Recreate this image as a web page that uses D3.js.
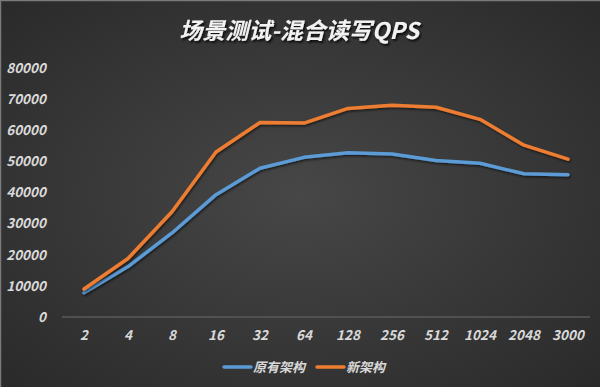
<!DOCTYPE html>
<html>
<head>
<meta charset="utf-8">
<script src="https://cdn.jsdelivr.net/npm/d3@7"></script>
<style>
    body { margin: 0; background: #333; }
    svg { display: block; }
</style>
</head>
<body>
<div id="chart"></div>
<script>
// data
var categories = ["2", "4", "8", "16", "32", "64", "128", "256", "512", "1024", "2048", "3000"];
var oldArch = [7800, 16200, 27000, 39300, 47800, 51300, 52800, 52400, 50300, 49400, 46000, 45700];
var newArch = [9000, 18800, 33800, 53000, 62500, 62300, 67000, 68000, 67400, 63500, 55200, 50700];
var seriesNames = ["原有架构", "新架构"];
var yTicks = [0, 10000, 20000, 30000, 40000, 50000, 60000, 70000, 80000];

var colors = ["#5b9bd5", "#ed7d31"];

var width = 600, height = 387;
var margin = { top: 68, right: 10, bottom: 70, left: 62 };

var svg = d3.select("#chart")
    .append("svg")
    .attr("width", width)
    .attr("height", height);

// background gradient
var defs = svg.append("defs");
var grad = defs.append("radialGradient")
    .attr("id", "bg")
    .attr("cx", "50%").attr("cy", "50%").attr("r", "70%");
grad.append("stop").attr("offset", "0%").attr("stop-color", "#474747");
grad.append("stop").attr("offset", "100%").attr("stop-color", "#2a2a2a");

var shadow = defs.append("filter").attr("id", "shadow")
    .attr("x", "-10%").attr("y", "-30%").attr("width", "120%").attr("height", "160%");
shadow.append("feDropShadow")
    .attr("dx", 1.5).attr("dy", 2).attr("stdDeviation", 1.2)
    .attr("flood-color", "#000").attr("flood-opacity", 0.8);

var lineShadow = defs.append("filter").attr("id", "lshadow")
    .attr("x", "-10%").attr("y", "-10%").attr("width", "120%").attr("height", "120%");
lineShadow.append("feDropShadow")
    .attr("dx", 1).attr("dy", 1.5).attr("stdDeviation", 1)
    .attr("flood-color", "#000").attr("flood-opacity", 0.6);

svg.append("rect")
    .attr("width", width).attr("height", height)
    .attr("fill", "url(#bg)");

// thin light frame on top and left
svg.append("line").attr("x1", 0).attr("y1", 0.5).attr("x2", width).attr("y2", 0.5)
    .attr("stroke", "#7a7a7a").attr("stroke-width", 1.5);
svg.append("line").attr("x1", 0.5).attr("y1", 0).attr("x2", 0.5).attr("y2", height)
    .attr("stroke", "#7a7a7a").attr("stroke-width", 1.5);

var plotW = 590 - margin.left;
var x = d3.scaleBand()
    .domain(categories)
    .range([margin.left, margin.left + plotW]);

var y = d3.scaleLinear()
    .domain([0, 80000])
    .range([317, 68]);

var fontFamily = "'Noto Sans CJK SC', 'Noto Sans', sans-serif";

// title
svg.append("text")
    .attr("x", 299)
    .attr("y", 39)
    .attr("text-anchor", "middle")
    .style("font-family", fontFamily)
    .style("font-size", "23px")
    .style("font-weight", "bold")
    .style("font-style", "italic")
    .style("fill", "#f2f2f2")
    .attr("filter", "url(#shadow)")
    .text("场景测试-混合读写QPS");

// Y axis
var yAxis = svg.append("g")
    .attr("transform", "translate(" + 46 + ",0)")
    .call(d3.axisLeft(y).tickValues(yTicks).tickSize(0).tickPadding(0).tickFormat(d3.format("d")));
yAxis.select(".domain").remove();
yAxis.selectAll("text")
    .style("font-family", fontFamily)
    .style("font-size", "13.5px")
    .style("font-style", "italic")
    .style("font-weight", "bold")
    .style("fill", "#d9d9d9");

// baseline
svg.append("line")
    .attr("x1", margin.left).attr("x2", margin.left + plotW)
    .attr("y1", y(0)).attr("y2", y(0))
    .attr("stroke", "#5a5a5a").attr("stroke-width", 1.5);

// X axis
var xAxis = svg.append("g")
    .attr("transform", "translate(0," + 329 + ")")
    .call(d3.axisBottom(x).tickSize(0).tickPadding(0));
xAxis.select(".domain").remove();
xAxis.selectAll("text")
    .attr("dy", "0.8em")
    .style("font-family", fontFamily)
    .style("font-size", "13.5px")
    .style("font-style", "italic")
    .style("font-weight", "bold")
    .style("fill", "#d9d9d9");

// lines
var line = d3.line()
    .x(function (d, i) { return x(categories[i]) + x.bandwidth() / 2; })
    .y(function (d) { return y(d); });

[oldArch, newArch].forEach(function (vals, i) {
    svg.append("path")
        .datum(vals)
        .attr("d", line)
        .attr("fill", "none")
        .attr("stroke", colors[i])
        .attr("stroke-width", 3.5)
        .attr("stroke-linejoin", "round")
        .attr("stroke-linecap", "round")
        .attr("filter", "url(#lshadow)");
});

// legend
var legendX = [224, 317];
seriesNames.forEach(function (name, i) {
    var g = svg.append("g").attr("transform", "translate(" + legendX[i] + ",367)");
    g.append("line")
        .attr("x1", 0).attr("x2", 27)
        .attr("stroke", colors[i])
        .attr("stroke-width", 3.5)
        .attr("stroke-linecap", "round");
    g.append("text")
        .attr("x", 29)
        .attr("y", 5)
        .style("font-family", fontFamily)
        .style("font-size", "13px")
        .style("font-style", "italic")
        .style("font-weight", "bold")
        .style("fill", "#d9d9d9")
        .text(name);
});
</script>
</body>
</html>
